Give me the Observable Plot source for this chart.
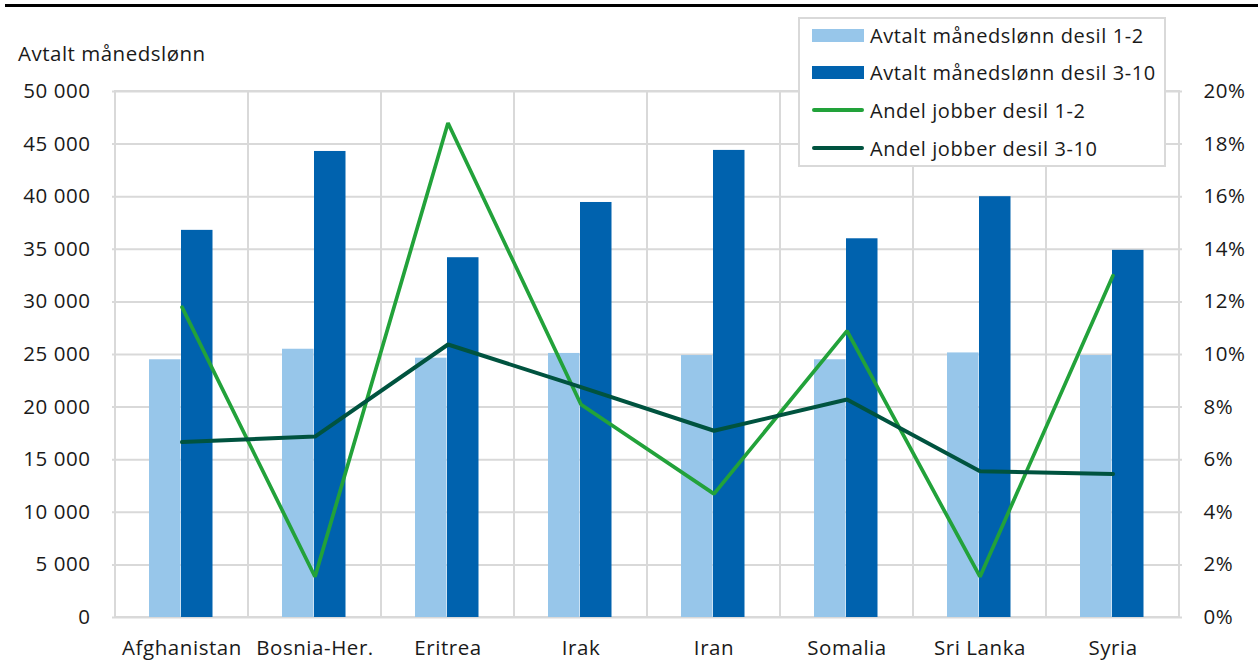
<!DOCTYPE html>
<html><head><meta charset="utf-8">
<script src="https://cdn.jsdelivr.net/npm/d3@7"></script>
<script src="https://cdn.jsdelivr.net/npm/@observablehq/plot@0.6"></script>
<style>
body{margin:0;background:#fff;font-family:"Open Sans",sans-serif;}
#wrap{position:relative;width:1258px;height:671px;overflow:hidden;}
#topline{position:absolute;left:5px;top:4px;width:1253px;height:3px;background:#000;}
#ytitle{position:absolute;left:18px;top:39px;font-size:20.5px;letter-spacing:0.5px;color:#1a1a1a;line-height:28px;white-space:nowrap;}
#legend{position:absolute;left:798px;top:17px;width:364px;height:146px;border:2px solid #d9d9d9;background:#fff;}
.item{position:absolute;left:12px;height:28px;display:flex;align-items:center;font-size:20px;letter-spacing:0.6px;color:#1a1a1a;white-space:nowrap;}
.sw{width:52px;margin-right:6px;flex:none;}
.rect{height:13px;}
.ln{height:4px;border-radius:2px;}
svg{position:absolute;left:0;top:0;}
</style></head><body>
<div id="wrap"><div id="chart"></div><div id="topline"></div><div id="ytitle">Avtalt månedslønn</div><div id="legend"></div></div>
<script>
const countries = ["Afghanistan","Bosnia-Her.","Eritrea","Irak","Iran","Somalia","Sri Lanka","Syria"];
const lonnDesil12 = [24500, 25500, 24650, 25100, 24900, 24500, 25150, 24900];
const lonnDesil310 = [36800, 44300, 34200, 39450, 44400, 36000, 40000, 34900];
const andelDesil12 = [11.8, 1.55, 18.8, 8.1, 4.7, 10.9, 1.55, 13.0];
const andelDesil310 = [6.67, 6.88, 10.38, 8.76, 7.1, 8.29, 5.56, 5.46];
const leftTicks = [0,5000,10000,15000,20000,25000,30000,35000,40000,45000,50000];
const rightTicks = [0,2,4,6,8,10,12,14,16,18,20];
const seriesNames = ["Avtalt månedslønn desil 1-2","Avtalt månedslønn desil 3-10","Andel jobber desil 1-2","Andel jobber desil 3-10"];
const colors = ["#97c6ea","#0062ae","#22a23a","#00533f"];

const ratio = 50000 / 20; // 20% on right axis == 50 000 on left axis
const rows = countries.map((c,i)=>({country:c, l12:lonnDesil12[i], l310:lonnDesil310[i], a12:andelDesil12[i], a310:andelDesil310[i]}));
const fmt = d3.formatLocale({decimal:",", thousands:"\u00a0", grouping:[3]}).format(",");

const plot = Plot.plot({
  width:1258, height:671,
  marginLeft:112, marginRight:76, marginTop:91, marginBottom:54,
  style:{fontFamily:"'Open Sans', sans-serif", fontSize:"20.5px", letterSpacing:"0.55px", color:"#1a1a1a", background:"transparent"},
  x:{domain:countries, padding:0, label:null},
  y:{domain:[0,50000], label:null},
  marks:[
    Plot.ruleY(leftTicks, {y:d=>d, stroke:"#d9d9d9", strokeWidth:2}),
    Plot.barY(countries, {x:d=>d, y1:0, y2:50000, fill:"none", stroke:"#d9d9d9", strokeWidth:2}),
    Plot.barY(rows, {x:"country", y:"l12", fill:colors[0], insetLeft:34, insetRight:67.5}),
    Plot.barY(rows, {x:"country", y:"l310", fill:colors[1], insetLeft:66, insetRight:35.5}),
    Plot.line(rows, {x:"country", y:d=>d.a12*ratio, stroke:colors[2], strokeWidth:3.7, strokeLinejoin:"miter"}),
    Plot.line(rows, {x:"country", y:d=>d.a310*ratio, stroke:colors[3], strokeWidth:4, strokeLinejoin:"miter"}),
    Plot.axisY({ticks:leftTicks, tickFormat:fmt, tickSize:0, tickPadding:22, label:null}),
    Plot.axisY({anchor:"right", ticks:rightTicks.map(t=>t*ratio), tickFormat:d=>(d/ratio)+"%", tickSize:0, tickPadding:21, label:null}),
    Plot.axisX({tickSize:0, tickPadding:23, label:null})
  ]
});
document.getElementById("chart").appendChild(plot);

const leg = document.getElementById("legend");
seriesNames.forEach((n,i)=>{
  const it = document.createElement("div");
  it.className="item";
  it.style.top = (2 + i*37.7) + "px";
  const sw = document.createElement("div");
  sw.className = "sw " + (i<2 ? "rect" : "ln");
  sw.style.background = colors[i];
  it.appendChild(sw);
  const t = document.createElement("span");
  t.textContent = n;
  it.appendChild(t);
  leg.appendChild(it);
});
</script>
</body></html>
